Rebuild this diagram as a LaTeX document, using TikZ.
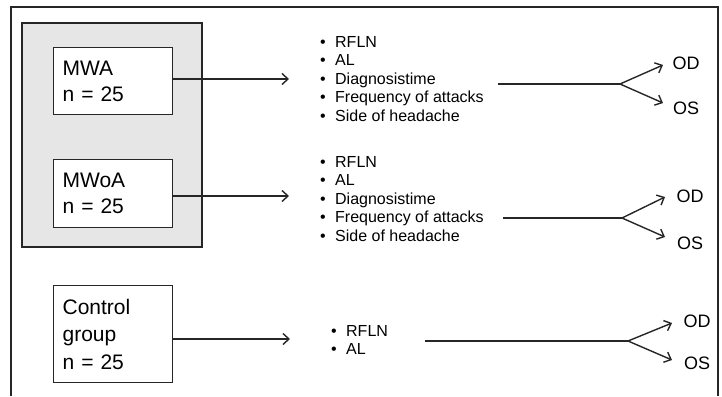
\documentclass[tikz,border=0pt]{standalone}
\usepackage{fontspec}
\setmainfont{Liberation Sans}
\usetikzlibrary{arrows.meta, positioning}
\definecolor{dline}{HTML}{262626}
\definecolor{gfill}{HTML}{E6E6E6}
\tikzset{
  frame/.style={draw=dline, line width=1.2pt},
  outerbox/.style={draw=dline, fill=gfill, line width=2pt},
  grpbox/.style={draw=dline, fill=white, line width=1.2pt, anchor=north west,
                 minimum width=119pt, text width=101pt, inner xsep=9pt, inner ysep=0pt,
                 align=left, font=\fontsize{21}{26}\selectfont},
  lst/.style={anchor=west, inner sep=0pt, align=left, font=\fontsize{16}{18.5}\selectfont},
  outlbl/.style={inner sep=0pt, font=\fontsize{18}{20}\selectfont},
  arr/.style={-{Straight Barb[length=6pt,width=11pt]}, line width=1.4pt, dline},
  lnk/.style={line width=2.2pt, dline},
}
\newcommand{\itm}{\makebox[15pt][l]{\textbullet}}

\begin{document}
\begin{tikzpicture}[x=1pt, y=-1pt]
  \useasboundingbox (0,0) rectangle (722,396);

  % Rahmen
  \draw[frame] (11,396) -- (11,7) -- (718,7) -- (718,396);

  % Migraene-Gruppen
  \draw[outerbox] (22,23) rectangle (202,247);
  \node[grpbox, minimum height=67pt] (mwa) at (53,47) {MWA\\n = 25};
  \node[grpbox, minimum height=68pt] (mwoa) at (53,159) {MWoA\\n = 25};
  \node[grpbox, minimum height=97pt, font=\fontsize{21}{27.5}\selectfont] (ctrl) at (53,285)
    {Control\\group\\n = 25};

  % Parameter
  \node[lst] (lst1) at (320,79)
    {\itm RFLN\\ \itm AL\\ \itm Diagnosistime\\ \itm Frequency of attacks\\ \itm Side of headache};
  \node[lst] (lst2) at (320,199)
    {\itm RFLN\\ \itm AL\\ \itm Diagnosistime\\ \itm Frequency of attacks\\ \itm Side of headache};
  \node[lst, font=\fontsize{16}{18}\selectfont] (lst3) at (331,340)
    {\itm RFLN\\ \itm AL};

  \coordinate (a1) at (289,79);
  \coordinate (a2) at (289,196);
  \coordinate (a3) at (290,339);
  \draw[arr] (mwa.east |- a1) -- (a1);
  \draw[arr] (mwoa.east |- a2) -- (a2);
  \draw[arr] (ctrl.east |- a3) -- (a3);

  % Augen
  \coordinate (s1) at (498,84);  \coordinate (b1) at (620,84);
  \coordinate (u1) at (663,65);  \coordinate (d1) at (663,103);
  \coordinate (s2) at (503,218); \coordinate (b2) at (622,218);
  \coordinate (u2) at (665,197); \coordinate (d2) at (665,237);
  \coordinate (s3) at (425,341); \coordinate (b3) at (628,341);
  \coordinate (u3) at (672,323); \coordinate (d3) at (672,360);

  \node[outlbl] (od1) at (686,63.5) {OD};
  \node[outlbl] (os1) at (686,108.5) {OS};
  \node[outlbl] (od2) at (690,196) {OD};
  \node[outlbl] (os2) at (690,243.5) {OS};
  \node[outlbl] (od3) at (697,321) {OD};
  \node[outlbl] (os3) at (697,363.5) {OS};

  \draw[lnk] (s1) -- (b1);
  \draw[lnk] (s2) -- (b2);
  \draw[lnk] (s3) -- (b3);
  \draw[arr] (b1) -- (u1);
  \draw[arr] (b1) -- (d1);
  \draw[arr] (b2) -- (u2);
  \draw[arr] (b2) -- (d2);
  \draw[arr] (b3) -- (u3);
  \draw[arr] (b3) -- (d3);
\end{tikzpicture}
\end{document}
